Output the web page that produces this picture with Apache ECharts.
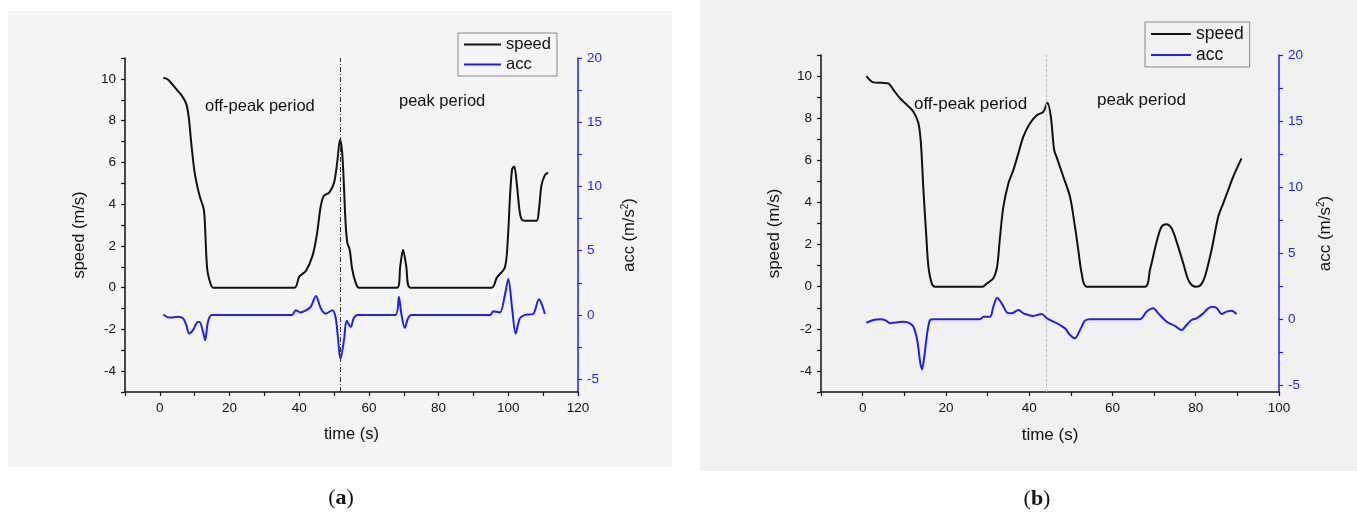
<!DOCTYPE html>
<html>
<head>
<meta charset="utf-8">
<script src="https://cdn.jsdelivr.net/npm/echarts@6/dist/echarts.min.js"></script>
<style>
html, body { margin: 0; padding: 0; background: #fff; }
#main { width: 1357px; height: 513px; }
</style>
</head>
<body>
<div id="main"></div>
<script>
// (a) speed / acceleration, first trip
var speedTimeA = [1.0, 2.4, 4.3, 6.2, 7.6, 8.3, 9.0, 10.0, 11.4, 12.6, 13.0, 13.6, 14.6, 15.3, 38.6, 40.0, 41.9, 43.8, 45.0, 46.2, 47.1, 48.6, 50.0, 50.9, 51.7, 52.4, 53.3, 53.8, 54.5, 55.2, 56.2, 57.1, 68.1, 69.0, 69.8, 70.7, 71.9, 95.2, 96.7, 99.0, 99.8, 100.5, 101.1, 101.7, 102.4, 103.3, 104.0, 105.7, 108.1, 108.8, 109.5, 110.5, 111.4];
var speedA = [10.05, 9.96, 9.59, 9.22, 8.79, 8.15, 6.95, 5.5, 4.4, 3.76, 2.8, 0.88, 0.16, 0, 0, 0.53, 0.8, 1.52, 2.48, 3.92, 4.4, 4.55, 5.03, 6.0, 7.1, 6.3, 3.1, 2.16, 1.8, 0.88, 0.24, 0, 0, 1.04, 1.81, 1.04, 0, 0, 0.48, 0.96, 2.16, 4.4, 5.68, 5.8, 5.03, 3.6, 3.24, 3.2, 3.2, 3.76, 4.88, 5.39, 5.51];
var accTimeA = [1.0, 2.0, 2.9, 5.2, 6.7, 7.6, 8.4, 9.5, 10.9, 11.4, 12.4, 13.0, 13.8, 14.9, 37.9, 39.0, 40.3, 42.0, 43.3, 44.8, 46.2, 47.6, 49.5, 50.5, 51.9, 52.9, 53.6, 54.8, 55.6, 56.7, 67.6, 68.6, 69.3, 70.3, 71.2, 72.1, 94.8, 95.7, 97.6, 99.0, 100.0, 101.1, 102.1, 103.3, 104.8, 107.1, 108.8, 109.5, 110.5];
var accA = [0.03, -0.15, -0.2, -0.15, -0.28, -0.8, -1.45, -1.19, -0.55, -0.55, -1.32, -1.97, -0.55, 0, 0, 0.37, 0.19, 0.37, 0.63, 1.48, 0.5, 0.1, 0.37, -0.28, -3.4, -1.84, -0.45, -0.93, -0.28, 0, 0, 1.4, 0.1, -1.01, -0.28, 0, 0, 0.29, 0.19, 1.53, 2.8, 0.5, -1.45, -0.28, 0, 0.07, 1.22, 0.89, 0.07];

// (b) second trip
var speedTimeB = [0.9, 2.6, 4.6, 6.2, 7.4, 9.0, 10.7, 12.2, 13.4, 14.0, 14.6, 15.3, 15.8, 16.6, 17.4, 28.7, 29.9, 31.4, 32.3, 33.0, 33.8, 35.0, 36.2, 37.4, 38.6, 40.2, 41.9, 43.4, 44.4, 45.2, 46.0, 46.7, 48.2, 49.8, 51.0, 51.8, 52.6, 53.8, 67.8, 69.0, 70.7, 71.8, 73.0, 74.2, 75.4, 77.0, 78.2, 79.2, 80.2, 81.2, 82.2, 83.8, 85.4, 86.6, 87.8, 89.0, 91.0];
var speedB = [10.0, 9.7, 9.68, 9.65, 9.34, 8.94, 8.62, 8.31, 7.76, 6.8, 4.59, 2.37, 0.95, 0.16, 0, 0, 0.16, 0.4, 0.95, 2.37, 3.8, 4.9, 5.54, 6.33, 7.12, 7.76, 8.15, 8.3, 8.73, 8.07, 6.49, 6.09, 5.22, 4.27, 2.85, 1.74, 0.64, 0, 0, 0.79, 2.2, 2.85, 2.96, 2.77, 2.14, 1.11, 0.32, 0.05, 0, 0.08, 0.47, 1.74, 3.32, 3.96, 4.59, 5.22, 6.09];
var accTimeB = [0.9, 2.6, 4.3, 5.5, 6.6, 7.8, 9.4, 11.0, 12.2, 13.1, 13.8, 14.25, 14.8, 15.5, 16.2, 17.0, 28.2, 29.0, 30.6, 31.4, 32.3, 33.4, 35.0, 36.2, 37.4, 38.6, 39.8, 41.0, 41.9, 43.0, 44.25, 45.8, 47.4, 48.6, 49.8, 51.0, 52.2, 53.4, 54.6, 66.6, 68.2, 69.8, 71.0, 73.0, 75.0, 76.6, 77.8, 79.0, 80.2, 81.8, 83.0, 84.1, 85.1, 86.2, 87.4, 88.6, 89.8];
var accB = [-0.26, -0.05, 0, -0.08, -0.3, -0.25, -0.18, -0.25, -0.56, -1.57, -3.2, -3.79, -2.83, -1.06, -0.05, 0, 0, 0.2, 0.2, 0.96, 1.64, 1.21, 0.45, 0.5, 0.7, 0.45, 0.33, 0.25, 0.33, 0.4, 0.08, -0.18, -0.43, -0.68, -1.19, -1.44, -0.81, -0.1, 0, 0, 0.58, 0.83, 0.45, -0.18, -0.5, -0.81, -0.43, -0.05, 0.08, 0.45, 0.83, 0.95, 0.83, 0.4, 0.58, 0.65, 0.4];

// boundary lines between off-peak and peak
var splitTimeA = 51.7;
var splitTimeB = 44.1;

// ticks and tick labels
var timeTicksA = [-10, 0, 10, 20, 30, 40, 50, 60, 70, 80, 90, 100, 110, 120];
var timeLabelsA = [0, 20, 40, 60, 80, 100, 120];
var timeTicksB = [-10, 0, 10, 20, 30, 40, 50, 60, 70, 80, 90, 100];
var timeLabelsB = [0, 20, 40, 60, 80, 100];
var speedTicks = [-5, -4, -3, -2, -1, 0, 1, 2, 3, 4, 5, 6, 7, 8, 9, 10, 11];
var speedLabels = [-4, -2, 0, 2, 4, 6, 8, 10];
var accTicks = [-5, -2.5, 0, 2.5, 5, 7.5, 10, 12.5, 15, 17.5, 20];
var accLabels = [-5, 0, 5, 10, 15, 20];

var font = "Liberation Sans, Arial, sans-serif";
var blue = "#1f1ff5";

function pairs(ts, vs) {
    return ts.map(function(t, i) { return [t, vs[i]]; });
}

function timeAxis(g, max, ticks, labels, size, gap) {
    return {
        type: "value", gridIndex: g, min: -10, max: max,
        name: "time (s)", nameLocation: "middle", nameGap: gap, nameMoveOverlap: false,
        nameTextStyle: { color: "#111", fontSize: size, fontFamily: font },
        axisLine: { show: true, onZero: false, lineStyle: { color: "#111", width: 1.5 } },
        axisTick: { show: true, length: 4, customValues: ticks, lineStyle: { color: "#111", width: 1.2 } },
        axisLabel: { customValues: labels, color: "#111", fontSize: 13.5, margin: 9, fontFamily: font },
        splitLine: { show: false }
    };
}

function speedAxis(g, size, gap) {
    return {
        type: "value", gridIndex: g, position: "left", min: -5, max: 11,
        name: "speed (m/s)", nameLocation: "middle", nameGap: gap, nameMoveOverlap: false,
        nameTextStyle: { color: "#111", fontSize: size, fontFamily: font, padding: [0, 20, 0, 0] },
        axisLine: { show: true, onZero: false, lineStyle: { color: "#111", width: 1.5 } },
        axisTick: { show: true, length: 4, customValues: speedTicks, lineStyle: { color: "#111", width: 1.2 } },
        axisLabel: { customValues: speedLabels, color: "#111", fontSize: 13.5, margin: 9, fontFamily: font },
        splitLine: { show: false }
    };
}

function accAxis(g, min, size, gap) {
    return {
        type: "value", gridIndex: g, position: "right", min: min, max: 20,
        name: "acc (m/s{sup|2})", nameLocation: "middle", nameGap: gap, nameMoveOverlap: false,
        nameTextStyle: {
            color: "#111", fontSize: size, fontFamily: font, padding: [0, 20, 0, 0],
            rich: { sup: { fontSize: 10, fontFamily: font, color: "#111", verticalAlign: "top", padding: [0, 0, 8, 0] } }
        },
        axisLine: { show: true, onZero: false, lineStyle: { color: blue, width: 1.5 } },
        axisTick: { show: true, length: 4, customValues: accTicks, lineStyle: { color: blue, width: 1.2 } },
        axisLabel: { customValues: accLabels, color: blue, fontSize: 13.5, margin: 9, fontFamily: font },
        splitLine: { show: false }
    };
}

function lineSeries(name, xi, yi, data, color, mark) {
    var s = {
        name: name, type: "line", xAxisIndex: xi, yAxisIndex: yi, data: data,
        symbol: "none", smooth: 0.3,
        lineStyle: { color: color, width: 2 }, itemStyle: { color: color }
    };
    if (mark) s.markLine = mark;
    return s;
}

function legendBox(left, top, size, w) {
    return {
        data: ["speed", "acc"], orient: "vertical", left: left, top: top,
        icon: "rect", itemWidth: w, itemHeight: 2,
        padding: [3, 6, 3, 6], itemGap: 3,
        borderColor: "#888", borderWidth: 1, backgroundColor: "rgba(0,0,0,0)",
        textStyle: { fontSize: size, color: "#111", fontFamily: font }
    };
}

function label(x, y, text, size) {
    return { type: "text", x: x, y: y, z: 10,
        style: { text: text, fill: "#111", fontSize: size, fontFamily: font, verticalAlign: "middle" } };
}

function panelTag(x, y, letter) {
    return { type: "text", x: x, y: y, z: 10,
        style: { text: "({b|" + letter + "})", fill: "#111", fontSize: 22, fontFamily: "Liberation Serif, serif",
            align: "center", verticalAlign: "middle",
            rich: { b: { fontSize: 22, fontWeight: "bold", fontFamily: "Liberation Serif, serif", fill: "#111" } } } };
}

var chart = echarts.init(document.getElementById("main"));
chart.setOption({
    animation: false,
    backgroundColor: "#ffffff",
    grid: [
        { left: 125, top: 58, width: 453, height: 334, containLabel: false, outerBoundsMode: "none" },
        { left: 821, top: 55, width: 458, height: 337, containLabel: false, outerBoundsMode: "none" }
    ],
    xAxis: [
        timeAxis(0, 120, timeTicksA, timeLabelsA, 16.5, 34),
        timeAxis(1, 100, timeTicksB, timeLabelsB, 17, 35)
    ],
    yAxis: [
        speedAxis(0, 16.5, 37),
        accAxis(0, -6, 16.5, 42),
        speedAxis(1, 17, 38),
        accAxis(1, -5.5, 17, 37)
    ],
    legend: [legendBox(458, 33, 16.5, 37), legendBox(1145, 22, 17.5, 40)],
    series: [
        lineSeries("speed", 0, 0, pairs(speedTimeA, speedA), "#111", {
            silent: true, symbol: ["none", "none"], label: { show: false },
            lineStyle: { color: "#333", width: 1, type: [5, 2, 1, 2] },
            data: [{ xAxis: splitTimeA }]
        }),
        lineSeries("acc", 0, 1, pairs(accTimeA, accA), blue),
        lineSeries("speed", 1, 2, pairs(speedTimeB, speedB), "#111", {
            silent: true, symbol: ["none", "none"], label: { show: false },
            lineStyle: { color: "#bdbdbd", width: 1, type: [3, 2] },
            data: [{ xAxis: splitTimeB }]
        }),
        lineSeries("acc", 1, 3, pairs(accTimeB, accB), blue)
    ],
    graphic: [
        { type: "rect", z: -10, shape: { x: 8, y: 11, width: 664, height: 456 }, style: { fill: "#f4f4f4" } },
        { type: "rect", z: -10, shape: { x: 700, y: 0, width: 657, height: 471 }, style: { fill: "#f1f1f1" } },
        label(205, 106, "off-peak period", 16.5),
        label(399, 101, "peak period", 16.5),
        label(914, 104, "off-peak period", 17),
        label(1097, 100, "peak period", 17),
        panelTag(341, 498, "a"),
        panelTag(1037, 499, "b")
    ]
});
window.onresize = function() { chart.resize(); };
</script>
</body>
</html>
